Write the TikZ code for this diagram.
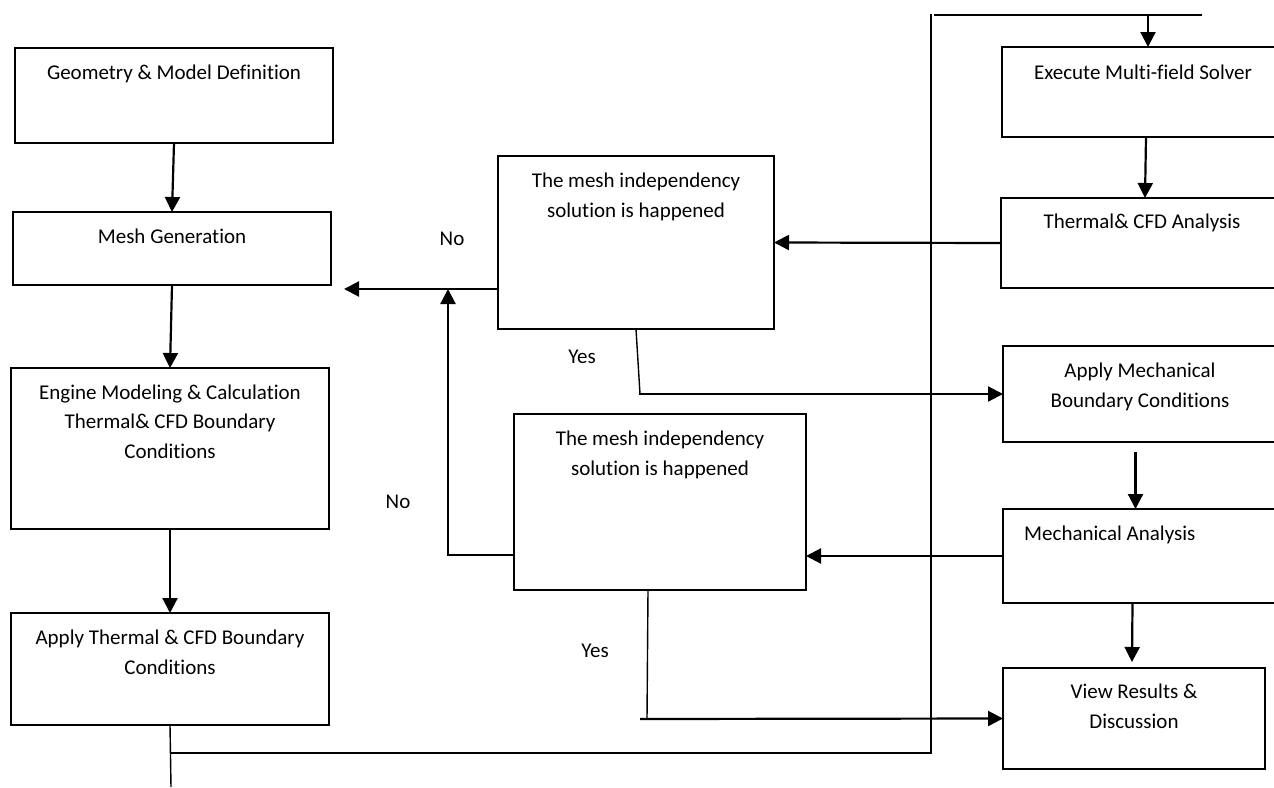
\documentclass[tikz,border=0pt]{standalone}
\usepackage{fontspec}
\setmainfont[Ligatures=NoCommon]{Carlito}
\usetikzlibrary{arrows.meta,calc}
\begin{document}
\begin{tikzpicture}[x=1pt,y=-1pt,
  box/.style={draw=black,line width=1.3pt,inner sep=0pt,outer sep=0pt,fill=none},
  txt/.style={font=\fontsize{21}{29.5}\selectfont,align=center,inner sep=0pt,anchor=base},
  conn/.style={line width=2.2pt},
  arr/.style={conn,-{Triangle[length=15pt,width=15pt]}}]
\clip (0,0) rectangle (1274,787);
% boxes
\node[box,minimum width=318pt,minimum height=95pt]  (b1)  at (174,95.5) {};
\node[box,minimum width=318pt,minimum height=73pt]  (b2)  at (172,248.5) {};
\node[box,minimum width=318pt,minimum height=161pt] (b3)  at (170,448.5) {};
\node[box,minimum width=318pt,minimum height=112pt] (b4)  at (170,669) {};
\node[box,minimum width=288pt,minimum height=90pt]  (b5)  at (1146,92) {};
\node[box,minimum width=288pt,minimum height=90pt]  (b6)  at (1145,243) {};
\node[box,minimum width=276pt,minimum height=173pt] (b7)  at (636,242.5) {};
\node[box,minimum width=292pt,minimum height=176pt] (b8)  at (660,502) {};
\node[box,minimum width=287pt,minimum height=96pt]  (b9)  at (1146.5,394) {};
\node[box,minimum width=287pt,minimum height=94pt]  (b10) at (1146.5,556) {};
\node[box,minimum width=262pt,minimum height=101pt] (b11) at (1134,718.5) {};
% texts (anchor base = last line)
\node[txt] (t1) at (174,79) {Geometry \& Model Definition};
\node[txt] (t2) at (172,243) {Mesh Generation};
\node[txt] (t3) at (170,458) {Engine Modeling \& Calculation\\Thermal\& CFD Boundary\\Conditions};
\node[txt] (t4) at (170,674) {Apply Thermal \& CFD Boundary\\Conditions};
\node[txt] (t5) at (1143,79) {Execute Multi-field Solver};
\node[txt] (t6) at (1142,228) {Thermal\& CFD Analysis};
\node[txt] (t7) at (636,217) {The mesh independency\\solution is happened};
\node[txt] (t8) at (660,475) {The mesh independency\\solution is happened};
\node[txt] (t9) at (1140,407) {Apply Mechanical\\Boundary Conditions};
\node[txt,anchor=base west] (t10) at (1024,540) {Mechanical Analysis};
\node[txt] (t11) at (1134,728) {View Results \&\\Discussion};
\node[txt] (no1) at (452,245) {No};
\node[txt] (yes1) at (582,363) {Yes};
\node[txt] (no2) at (398,508) {No};
\node[txt] (yes2) at (595,657) {Yes};
% coordinates
\coordinate (bottomend) at (171,787);
\coordinate (loopA) at (171,753);
\coordinate (loopB) at (931,753);
\coordinate (loopC) at (931,14);
\coordinate (topL) at (934,15);
\coordinate (topR) at (1202,15);
\coordinate (topArr) at (1148,15);
\coordinate (noTip) at (344,289);
\coordinate (noUp) at (448,289);
% connectors
\draw[arr] (b1.south) -- (b2.north);
\draw[arr] (b2.south) -- (b3.north);
\draw[arr] (b3.south) -- (b4.north);
\draw[conn,line width=1.4pt] (b4.south) -- (bottomend);
\draw[conn] (loopA) -- (loopB) -- (loopC);
\draw[conn] (topL) -- (topR);
\draw[arr] (topArr) -- (topArr |- b5.north);
\draw[arr] (b5.south) -- (b6.north);
\draw[arr] (b6.west) -- (b7.east);
\draw[arr] ($(b7.south west)+(0,-40)$) -- (noTip);
\draw[arr] ($(b8.south west)+(0,-35)$) -- ($(b8.south west)+(-66,-35)$) -- (noUp);
\draw[conn,line width=1.4pt] (b7.south) -- (640,394);
\draw[arr] (639,394) -- (b9.west);
\draw[arr] ($(b9.south)+(-11,10)$) -- ($(b10.north)+(-11,0)$);
\draw[arr] (b10.west) -- (b10.west -| b8.east);
\draw[arr] ($(b10.south)+(-14,0)$) -- ($(b11.north)+(-2,-6)$);
\draw[conn,line width=1.4pt] ($(b8.south)+(-12,0)$) -- (647,719);
\draw[arr] (640,719) -- (b11.west);
\end{tikzpicture}
\end{document}
